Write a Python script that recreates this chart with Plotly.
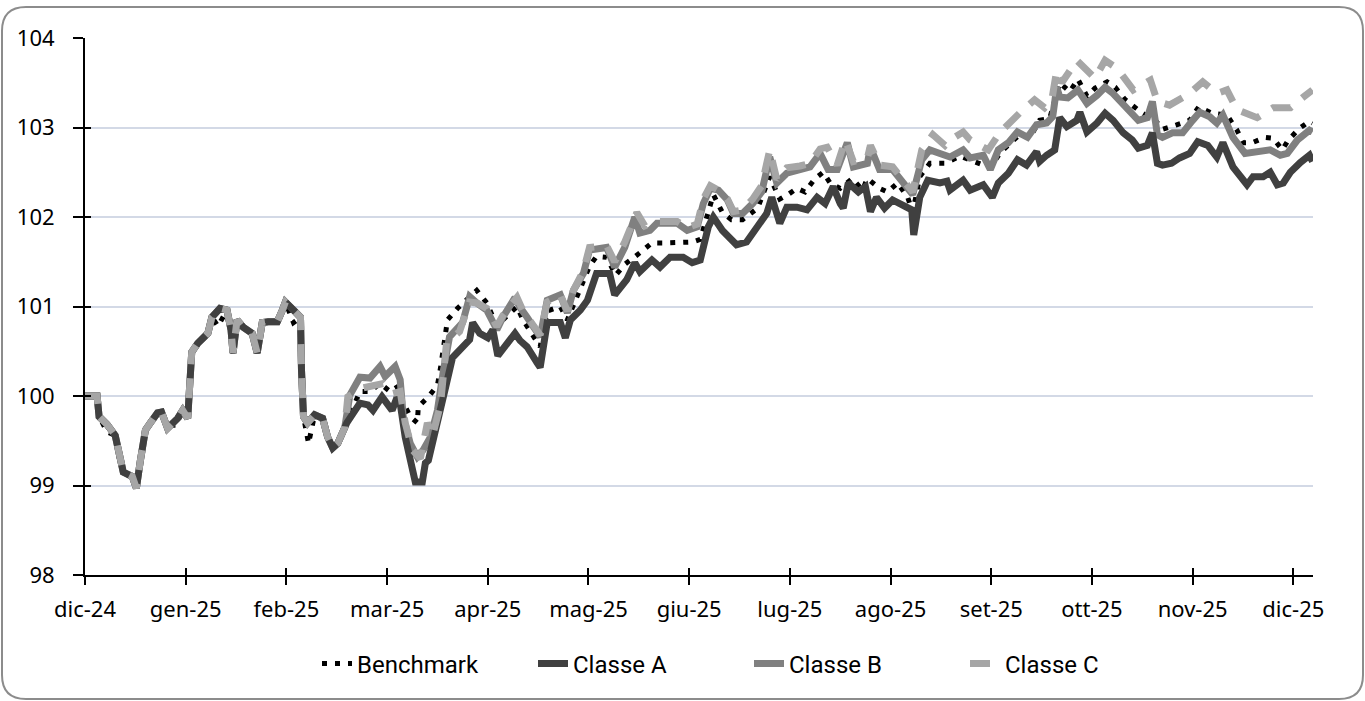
import plotly.graph_objects as go

# ---------------- DATA ----------------
etichette_mesi = ["dic-24", "gen-25", "feb-25", "mar-25", "apr-25", "mag-25", "giu-25",
                  "lug-25", "ago-25", "set-25", "ott-25", "nov-25", "dic-25"]
posizioni_mesi = [0, 1, 2, 3, 4, 5, 6, 7, 8, 9, 10, 11, 12]
tick_y = [98, 99, 100, 101, 102, 103, 104]

# x = months elapsed since the start of dic-24
mesi_a = [0.00, 0.12, 0.14, 0.22, 0.30, 0.35, 0.38, 0.47, 0.51, 0.55, 0.60, 0.65, 0.72, 0.76, 0.82,
          0.92, 0.97, 1.02, 1.06, 1.12, 1.22, 1.26, 1.34, 1.41, 1.45, 1.47, 1.51, 1.57, 1.66, 1.71,
          1.76, 1.82, 1.91, 1.96, 1.99, 2.07, 2.14, 2.15, 2.17, 2.21, 2.28, 2.36, 2.41, 2.46, 2.51,
          2.60, 2.66, 2.73, 2.81, 2.86, 2.95, 3.00, 3.05, 3.10, 3.13, 3.18, 3.25, 3.28, 3.35, 3.38,
          3.41, 3.46, 3.53, 3.59, 3.65, 3.74, 3.82, 3.85, 3.92, 4.00, 4.05, 4.10, 4.15, 4.19, 4.27,
          4.32, 4.39, 4.49, 4.52, 4.59, 4.72, 4.77, 4.82, 4.92, 4.99, 5.08, 5.21, 5.26, 5.38, 5.46,
          5.51, 5.63, 5.71, 5.81, 5.94, 6.03, 6.11, 6.19, 6.24, 6.33, 6.42, 6.47, 6.57, 6.67, 6.77,
          6.82, 6.90, 6.97, 7.07, 7.17, 7.27, 7.35, 7.43, 7.50, 7.53, 7.58, 7.68, 7.75, 7.80, 7.86,
          7.94, 8.02, 8.14, 8.21, 8.23, 8.29, 8.37, 8.49, 8.56, 8.59, 8.72, 8.79, 8.92, 9.01, 9.07,
          9.17, 9.26, 9.35, 9.45, 9.48, 9.55, 9.63, 9.68, 9.75, 9.85, 9.88, 9.95, 10.05, 10.13, 10.21,
          10.31, 10.40, 10.46, 10.55, 10.60, 10.65, 10.70, 10.79, 10.87, 10.97, 11.05, 11.15, 11.24, 11.30, 11.40,
          11.54, 11.60, 11.70, 11.77, 11.84, 11.90, 11.97, 12.07, 12.16, 12.19]
classe_a = [100.00, 100.00, 99.77, 99.68, 99.56, 99.25, 99.15, 99.10, 98.97, 99.28, 99.62, 99.70, 99.81, 99.82, 99.64,
            99.75, 99.84, 99.75, 100.49, 100.59, 100.70, 100.88, 100.98, 100.96, 100.74, 100.48, 100.85, 100.77, 100.70, 100.48,
            100.82, 100.83, 100.83, 100.96, 101.05, 100.96, 100.88, 100.29, 99.77, 99.70, 99.79, 99.75, 99.54, 99.42, 99.47,
            99.70, 99.79, 99.92, 99.90, 99.84, 99.99, 99.92, 99.84, 99.99, 99.92, 99.54, 99.17, 99.04, 99.04, 99.25,
            99.28, 99.54, 99.84, 100.14, 100.43, 100.55, 100.63, 100.82, 100.70, 100.65, 100.74, 100.45, 100.52, 100.60, 100.70,
            100.62, 100.55, 100.37, 100.32, 100.82, 100.82, 100.65, 100.85, 100.96, 101.07, 101.37, 101.37, 101.13, 101.30, 101.49,
            101.39, 101.52, 101.44, 101.55, 101.55, 101.49, 101.52, 101.89, 102.00, 101.85, 101.74, 101.69, 101.72, 101.89, 102.04,
            102.22, 101.93, 102.11, 102.11, 102.08, 102.22, 102.15, 102.34, 102.15, 102.10, 102.38, 102.28, 102.34, 102.06, 102.22,
            102.10, 102.19, 102.11, 102.08, 101.80, 102.22, 102.41, 102.38, 102.40, 102.30, 102.41, 102.30, 102.36, 102.22, 102.38,
            102.49, 102.64, 102.58, 102.73, 102.62, 102.69, 102.75, 103.11, 103.01, 103.08, 103.17, 102.95, 103.05, 103.16, 103.08,
            102.94, 102.86, 102.77, 102.80, 102.94, 102.60, 102.58, 102.60, 102.66, 102.71, 102.84, 102.80, 102.67, 102.83, 102.56,
            102.36, 102.45, 102.45, 102.50, 102.36, 102.38, 102.50, 102.61, 102.69, 102.62]

mesi_b = [0.00, 0.12, 0.14, 0.22, 0.30, 0.35, 0.38, 0.47, 0.51, 0.55, 0.60, 0.65, 0.72, 0.76, 0.82,
          0.92, 0.97, 1.02, 1.06, 1.12, 1.22, 1.26, 1.34, 1.41, 1.45, 1.47, 1.51, 1.57, 1.66, 1.71,
          1.76, 1.82, 1.91, 1.96, 1.99, 2.07, 2.14, 2.15, 2.17, 2.21, 2.28, 2.36, 2.41, 2.46, 2.51,
          2.58, 2.63, 2.73, 2.83, 2.93, 2.98, 3.08, 3.13, 3.16, 3.23, 3.30, 3.36, 3.43, 3.50, 3.56,
          3.62, 3.75, 3.82, 3.89, 3.99, 4.09, 4.15, 4.27, 4.32, 4.39, 4.52, 4.59, 4.72, 4.79, 4.85,
          4.95, 5.01, 5.18, 5.26, 5.36, 5.46, 5.51, 5.61, 5.68, 5.78, 5.88, 5.98, 6.08, 6.14, 6.21,
          6.29, 6.38, 6.44, 6.53, 6.63, 6.72, 6.80, 6.87, 6.97, 7.10, 7.20, 7.30, 7.38, 7.47, 7.57,
          7.63, 7.77, 7.80, 7.89, 8.02, 8.12, 8.22, 8.31, 8.39, 8.49, 8.59, 8.72, 8.79, 8.92, 8.99,
          9.07, 9.17, 9.26, 9.36, 9.45, 9.55, 9.61, 9.65, 9.68, 9.76, 9.86, 9.95, 10.05, 10.13, 10.21,
          10.31, 10.40, 10.46, 10.55, 10.60, 10.65, 10.70, 10.80, 10.90, 11.00, 11.07, 11.17, 11.24, 11.30, 11.40,
          11.52, 11.64, 11.77, 11.87, 11.94, 12.04, 12.16, 12.19]
classe_b = [100.00, 100.00, 99.77, 99.68, 99.56, 99.25, 99.15, 99.10, 98.97, 99.28, 99.62, 99.70, 99.81, 99.82, 99.64,
            99.75, 99.84, 99.75, 100.49, 100.59, 100.70, 100.88, 100.98, 100.96, 100.74, 100.48, 100.85, 100.77, 100.70, 100.48,
            100.82, 100.83, 100.83, 100.96, 101.05, 100.96, 100.88, 100.29, 99.77, 99.70, 99.79, 99.75, 99.54, 99.42, 99.47,
            99.65, 100.01, 100.21, 100.20, 100.33, 100.22, 100.33, 100.18, 99.77, 99.47, 99.32, 99.40, 99.54, 99.84, 100.29,
            100.66, 100.82, 101.11, 101.04, 100.96, 100.74, 100.88, 101.10, 100.99, 100.88, 100.66, 101.07, 101.13, 100.93, 101.18,
            101.37, 101.63, 101.66, 101.44, 101.66, 102.00, 101.82, 101.85, 101.93, 101.93, 101.93, 101.85, 101.89, 102.15, 102.32,
            102.30, 102.19, 102.04, 102.04, 102.15, 102.28, 102.67, 102.38, 102.49, 102.53, 102.56, 102.71, 102.53, 102.53, 102.83,
            102.56, 102.60, 102.78, 102.53, 102.53, 102.38, 102.25, 102.64, 102.75, 102.71, 102.67, 102.75, 102.66, 102.69, 102.53,
            102.75, 102.83, 102.95, 102.89, 103.03, 103.05, 103.12, 103.45, 103.34, 103.33, 103.42, 103.27, 103.36, 103.45, 103.38,
            103.27, 103.17, 103.08, 103.11, 103.29, 102.92, 102.89, 102.94, 102.94, 103.08, 103.17, 103.12, 103.05, 103.14, 102.89,
            102.71, 102.73, 102.75, 102.69, 102.71, 102.86, 102.97, 102.95]

mesi_c = [0.00, 0.12, 0.14, 0.22, 0.30, 0.35, 0.38, 0.47, 0.51, 0.55, 0.60, 0.65, 0.72, 0.76, 0.82,
          0.92, 0.97, 1.02, 1.06, 1.12, 1.22, 1.26, 1.34, 1.41, 1.45, 1.47, 1.51, 1.57, 1.66, 1.71,
          1.76, 1.82, 1.91, 1.96, 1.99, 2.07, 2.14, 2.15, 2.17, 2.21, 2.28, 2.36, 2.41, 2.46, 2.51,
          2.58, 2.61, 2.76, 2.96, 3.06, 3.13, 3.18, 3.25, 3.33, 3.40, 3.45, 3.53, 3.59, 3.72, 3.82,
          3.89, 3.99, 4.09, 4.15, 4.29, 4.35, 4.52, 4.59, 4.72, 4.79, 4.85, 4.95, 5.01, 5.18, 5.26,
          5.36, 5.48, 5.56, 5.68, 5.88, 5.98, 6.08, 6.14, 6.21, 6.29, 6.38, 6.44, 6.53, 6.63, 6.72,
          6.80, 6.87, 6.97, 7.10, 7.20, 7.30, 7.37, 7.47, 7.55, 7.63, 7.77, 7.80, 7.89, 8.02, 8.12,
          8.22, 8.31, 8.42, 8.54, 8.59, 8.72, 8.79, 8.97, 9.09, 9.28, 9.38, 9.43, 9.53, 9.60, 9.65,
          9.70, 9.85, 9.95, 10.03, 10.13, 10.25, 10.41, 10.58, 10.65, 10.77, 10.97, 11.10, 11.24, 11.34, 11.44,
          11.64, 11.80, 11.97, 12.10, 12.19]
classe_c = [100.00, 100.00, 99.77, 99.68, 99.56, 99.25, 99.15, 99.10, 98.97, 99.28, 99.62, 99.70, 99.81, 99.82, 99.64,
            99.75, 99.84, 99.75, 100.49, 100.59, 100.70, 100.88, 100.98, 100.96, 100.74, 100.48, 100.85, 100.77, 100.70, 100.48,
            100.82, 100.83, 100.83, 100.96, 101.05, 100.96, 100.88, 100.29, 99.77, 99.70, 99.79, 99.75, 99.54, 99.42, 99.47,
            99.65, 99.99, 100.09, 100.14, 100.03, 100.05, 99.70, 99.40, 99.30, 99.70, 99.55, 99.90, 100.59, 100.72, 101.05,
            101.04, 100.98, 100.78, 100.90, 101.10, 100.95, 100.68, 101.05, 101.13, 100.95, 101.18, 101.40, 101.66, 101.68, 101.50,
            101.72, 102.05, 101.90, 101.95, 101.95, 101.88, 101.92, 102.20, 102.35, 102.30, 102.20, 102.06, 102.08, 102.20, 102.35,
            102.75, 102.42, 102.55, 102.57, 102.60, 102.76, 102.78, 102.58, 102.86, 102.62, 102.66, 102.80, 102.58, 102.56, 102.42,
            102.28, 102.75, 102.92, 102.80, 102.86, 102.95, 102.86, 102.75, 102.95, 103.16, 103.27, 103.31, 103.22, 103.30, 103.64,
            103.50, 103.75, 103.64, 103.55, 103.75, 103.66, 103.42, 103.53, 103.29, 103.25, 103.38, 103.51, 103.38, 103.42, 103.20,
            103.11, 103.22, 103.22, 103.34, 103.42]

mesi_bench = [0.00, 0.12, 0.14, 0.22, 0.30, 0.35, 0.38, 0.47, 0.51, 0.55, 0.60, 0.65, 0.72, 0.76, 0.82,
              0.91, 0.97, 1.02, 1.06, 1.12, 1.22, 1.26, 1.32, 1.41, 1.45, 1.47, 1.51, 1.57, 1.66, 1.71,
              1.76, 1.82, 1.91, 1.96, 1.99, 2.07, 2.14, 2.15, 2.17, 2.20, 2.22, 2.28, 2.36, 2.41, 2.46,
              2.51, 2.60, 2.66, 2.73, 2.83, 2.93, 3.03, 3.10, 3.15, 3.23, 3.30, 3.31, 3.41, 3.50, 3.53,
              3.57, 3.60, 3.70, 3.89, 3.99, 4.09, 4.15, 4.29, 4.35, 4.52, 4.59, 4.72, 4.79, 4.90, 5.01,
              5.08, 5.18, 5.27, 5.36, 5.51, 5.63, 5.76, 5.88, 6.03, 6.11, 6.24, 6.33, 6.42, 6.53, 6.68,
              6.80, 6.90, 6.98, 7.07, 7.15, 7.25, 7.33, 7.40, 7.50, 7.62, 7.72, 7.77, 7.89, 7.97, 8.07,
              8.17, 8.22, 8.29, 8.39, 8.54, 8.69, 8.84, 8.99, 9.09, 9.19, 9.28, 9.38, 9.48, 9.58, 9.68,
              9.78, 9.86, 9.95, 10.03, 10.15, 10.23, 10.33, 10.50, 10.63, 10.70, 10.84, 10.97, 11.06, 11.19, 11.34,
              11.44, 11.50, 11.59, 11.72, 11.80, 11.89, 11.95, 12.06, 12.16, 12.19]
benchmark = [100.00, 100.00, 99.77, 99.60, 99.56, 99.25, 99.15, 99.10, 98.97, 99.28, 99.62, 99.70, 99.81, 99.82, 99.66,
             99.68, 99.84, 99.75, 100.49, 100.59, 100.70, 100.88, 100.78, 100.96, 100.74, 100.46, 100.85, 100.77, 100.70, 100.48,
             100.82, 100.83, 100.83, 100.96, 101.05, 100.82, 100.88, 100.29, 99.77, 99.59, 99.47, 99.79, 99.75, 99.54, 99.42,
             99.47, 99.70, 99.85, 100.05, 100.05, 100.14, 100.05, 100.10, 99.95, 99.77, 99.70, 99.88, 99.99, 100.12, 100.31,
             100.68, 100.85, 100.98, 101.18, 101.04, 100.78, 100.85, 101.00, 100.85, 100.55, 100.95, 101.00, 100.85, 101.15, 101.45,
             101.56, 101.55, 101.35, 101.47, 101.60, 101.71, 101.71, 101.72, 101.72, 101.75, 102.25, 102.05, 101.97, 101.97, 102.10,
             102.45, 102.20, 102.25, 102.32, 102.28, 102.43, 102.50, 102.38, 102.32, 102.43, 102.30, 102.43, 102.32, 102.28, 102.38,
             102.22, 102.05, 102.45, 102.60, 102.60, 102.68, 102.62, 102.55, 102.72, 102.82, 102.92, 102.88, 103.08, 103.10, 103.50,
             103.40, 103.54, 103.35, 103.44, 103.51, 103.45, 103.31, 103.16, 103.08, 102.98, 103.03, 103.08, 103.23, 103.16, 103.14,
             102.97, 102.83, 102.83, 102.89, 102.88, 102.75, 102.86, 102.99, 103.07, 103.05]

# ---------------- LAYOUT CONSTANTS ----------------
W, H = 1365, 701
ML, MR, MT, MB = 85, 52, 38, 126
X_RANGE = [0, 12.195]
Y_RANGE = [98, 104]


def px_x(v):
    return (v - ML) / (W - ML - MR)


def px_y(v):
    return (H - MB - v) / (H - MT - MB)


fig = go.Figure()
fig.add_trace(go.Scatter(x=mesi_bench, y=benchmark, name="Benchmark", mode="lines",
                         line=dict(color="#000000", width=5, dash="5px,8px"), legendrank=1))
fig.add_trace(go.Scatter(x=mesi_b, y=classe_b, name="Classe B", mode="lines",
                         line=dict(color="#808080", width=7), legendrank=3))
fig.add_trace(go.Scatter(x=mesi_a, y=classe_a, name="Classe A", mode="lines",
                         line=dict(color="#404040", width=7), legendrank=2))
fig.add_trace(go.Scatter(x=mesi_c, y=classe_c, name="Classe C", mode="lines",
                         line=dict(color="#a6a6a6", width=7, dash="20px,14px"), legendrank=4))
# empty trace to carry the overlay axes used for the inner half of the cross tick marks
fig.add_trace(go.Scatter(x=[None], y=[None], xaxis="x2", yaxis="y2", showlegend=False,
                         hoverinfo="skip", mode="lines"))

# rounded outer frame
left, right, top, bottom, r = 2, 1363, 7, 699, 24
path = (f"M {px_x(left + r)},{px_y(top)} L {px_x(right - r)},{px_y(top)} "
        f"Q {px_x(right)},{px_y(top)} {px_x(right)},{px_y(top + r)} "
        f"L {px_x(right)},{px_y(bottom - r)} "
        f"Q {px_x(right)},{px_y(bottom)} {px_x(right - r)},{px_y(bottom)} "
        f"L {px_x(left + r)},{px_y(bottom)} "
        f"Q {px_x(left)},{px_y(bottom)} {px_x(left)},{px_y(bottom - r)} "
        f"L {px_x(left)},{px_y(top + r)} "
        f"Q {px_x(left)},{px_y(top)} {px_x(left + r)},{px_y(top)} Z")

fig.update_layout(
    width=W, height=H,
    margin=dict(l=ML, r=MR, t=MT, b=MB, pad=0, autoexpand=False),
    paper_bgcolor="white", plot_bgcolor="white",
    font=dict(family="Noto Sans", size=22, color="black"),
    hovermode=False,
    showlegend=True,
    legend=dict(orientation="h", x=px_x(317), xanchor="left", y=px_y(664), yanchor="middle",
                font=dict(family="Roboto", size=24, color="black"), traceorder="normal",
                entrywidth=171, entrywidthmode="pixels",
                bgcolor="rgba(0,0,0,0)"),
    xaxis=dict(range=X_RANGE, tickmode="array", tickvals=posizioni_mesi, ticktext=etichette_mesi,
               ticks="outside", ticklen=8, tickwidth=2, tickcolor="black",
               showline=True, linecolor="black", linewidth=2, showgrid=False, zeroline=False,
               ticklabelstandoff=6, fixedrange=True),
    yaxis=dict(range=Y_RANGE, tickmode="array", tickvals=tick_y,
               ticks="outside", ticklen=10, tickwidth=2, tickcolor="black",
               showline=True, linecolor="black", linewidth=2,
               showgrid=True, gridcolor="#d3d9e6", gridwidth=2, zeroline=False,
               ticklabelstandoff=14, fixedrange=True),
    xaxis2=dict(overlaying="x", anchor="y", range=X_RANGE, tickmode="array", tickvals=posizioni_mesi,
                ticks="inside", ticklen=7, tickwidth=2, tickcolor="black", showticklabels=False,
                showline=False, showgrid=False, zeroline=False, fixedrange=True),
    yaxis2=dict(overlaying="y", anchor="x", side="left", range=Y_RANGE, tickmode="array", tickvals=tick_y,
                ticks="inside", ticklen=6, tickwidth=2, tickcolor="black", showticklabels=False,
                showline=False, showgrid=False, zeroline=False, fixedrange=True),
    shapes=[dict(type="path", xref="paper", yref="paper", path=path,
                 line=dict(color="#8c8c8c", width=2), fillcolor="rgba(0,0,0,0)", layer="below")],
)

fig.write_html("out.html", config={"displayModeBar": False},
               post_script="document.body.style.margin='0';document.body.style.overflow='hidden';")
